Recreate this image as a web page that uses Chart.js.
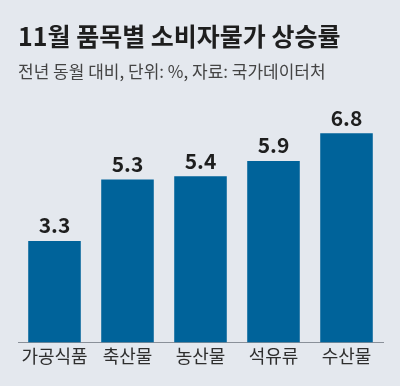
<!DOCTYPE html>
<html>
<head>
<meta charset="utf-8">
<script src="https://cdn.jsdelivr.net/npm/chart.js@4"></script>
<style>
  html, body { margin: 0; padding: 0; background: #e4e8ee; }
  .chart-container { width: 400px; height: 386px; position: relative; }
</style>
</head>
<body>
<div class="chart-container"><canvas id="barChart"></canvas></div>
<script>
const FONT = "'Noto Sans CJK KR', 'Noto Sans', sans-serif";
const categories = ['가공식품', '축산물', '농산물', '석유류', '수산물'];
const values = [3.3, 5.3, 5.4, 5.9, 6.8];

// draw value labels above each bar
const valueLabels = {
  id: 'valueLabels',
  afterDatasetsDraw(chart) {
    const c = chart.ctx;
    const meta = chart.getDatasetMeta(0);
    c.save();
    c.font = "bold 21px " + FONT;
    c.fillStyle = '#1e1e1e';
    c.textAlign = 'center';
    c.textBaseline = 'bottom';
    meta.data.forEach((bar, i) => {
      c.fillText(values[i].toFixed(1), bar.x, bar.y - 5);
    });
    c.restore();
  }
};

const config = {
  type: 'bar',
  data: {
    labels: categories,
    datasets: [{
      data: values,
      backgroundColor: '#00639a',
      barPercentage: 0.72,
      categoryPercentage: 1.0
    }]
  },
  options: {
    responsive: true,
    maintainAspectRatio: false,
    animation: false,
    layout: { padding: { left: 18, right: 17, top: 21, bottom: 16 } },
    scales: {
      x: {
        grid: { display: false, drawTicks: false },
        border: { display: true, color: '#8a9099', width: 1 },
        ticks: { color: '#2e2e2e', font: { family: FONT, size: 18 }, padding: 3 }
      },
      y: {
        display: false,
        min: 0,
        max: 8
      }
    },
    plugins: {
      legend: { display: false },
      tooltip: { enabled: false },
      title: {
        display: true,
        text: '11월 품목별 소비자물가 상승률',
        align: 'start',
        color: '#1e1e1e',
        font: { family: FONT, size: 25, weight: 'bold' },
        padding: { top: 0, bottom: 10 }
      },
      subtitle: {
        display: true,
        text: '전년 동월 대비, 단위: %, 자료: 국가데이터처',
        align: 'start',
        color: '#444',
        font: { family: FONT, size: 17 },
        padding: { bottom: 15 }
      }
    }
  },
  plugins: [valueLabels]
};

const chart = new Chart(document.getElementById('barChart').getContext('2d'), config);
</script>
</body>
</html>
